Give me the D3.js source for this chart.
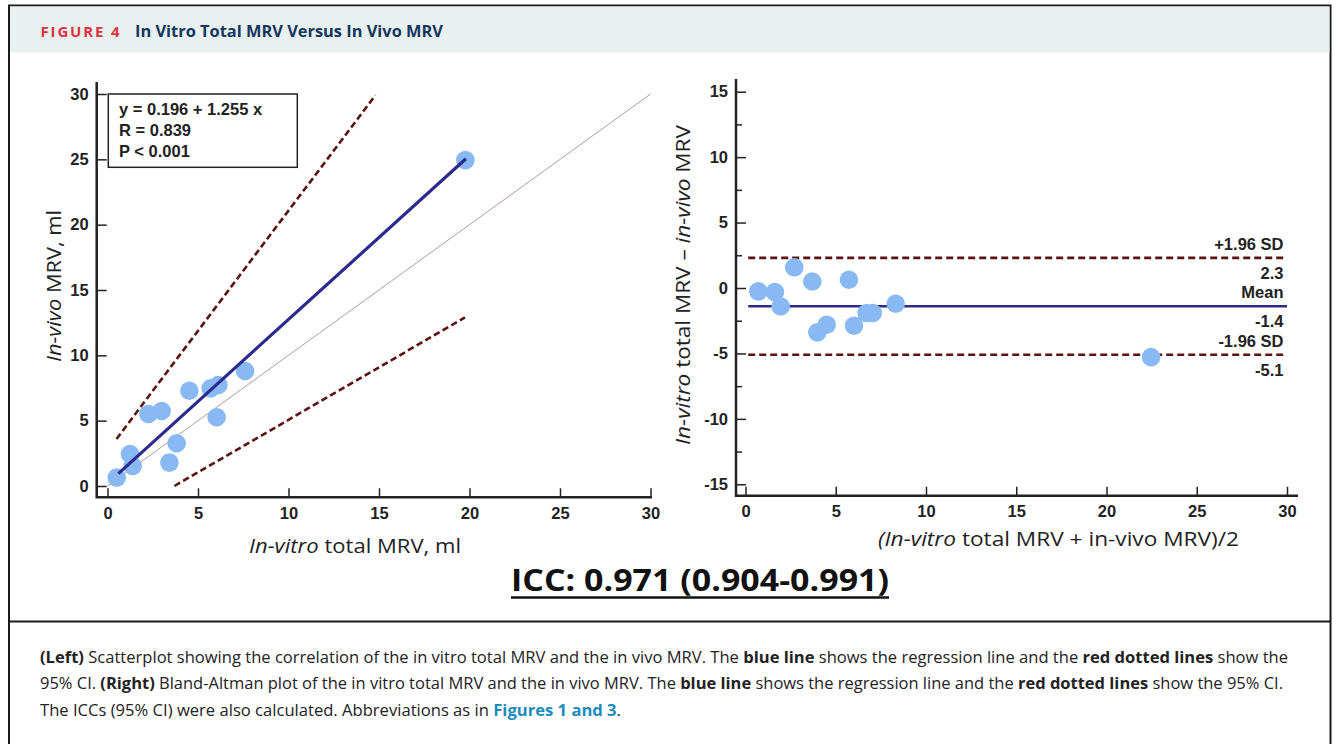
<!DOCTYPE html>
<html>
<head>
<meta charset="utf-8">
<script src="https://cdn.jsdelivr.net/npm/d3@7"></script>
<style>
  html, body { margin: 0; padding: 0; background: #fff; }
  svg { display: block; }
</style>
</head>
<body>
<svg id="fig" width="1336" height="744"></svg>
<script>
// ---- Data --------------------------------------------------------------
// Scatterplot: in vitro total MRV (x) vs in vivo MRV (y), ml
const invitroMRV = [0.51, 1.24, 1.39, 2.26, 2.99, 3.42, 3.82, 4.52, 5.70, 6.12, 6.03, 7.60, 19.77];
const invivoMRV  = [0.64, 2.45, 1.53, 5.51, 5.74, 1.79, 3.27, 7.29, 7.47, 7.73, 5.26, 8.80, 24.94];

// Regression y = a + b x, drawn over the observed x range
const regIntercept = 0.196;
const regSlope = 1.255;
const regRangeX = [0.6, 19.8];
const statLines = ["y = 0.196 + 1.255 x", "R = 0.839", "P < 0.001"];

// 95% CI bounds (end points) and identity line
const ciUpper = [[0.5, 3.6], [14.8, 29.9]];
const ciLower = [[3.7, 0.0], [19.75, 12.9]];
const identity = [[0, 0], [30, 30]];

// Bland-Altman: mean of methods (x) vs difference (y)
const baMean = [0.71, 1.63, 1.95, 2.70, 3.70, 5.73, 3.98, 4.50, 6.01, 6.71, 7.05, 8.32, 22.47];
const baDiff = [-0.26, -0.31, -1.41, 1.58, 0.50, 0.63, -3.39, -2.81, -2.88, -1.91, -1.91, -1.20, -5.28];

// Limits of agreement and mean difference
const baLines = [
  { name: "+1.96 SD", value: 2.3, label: "2.3", dashed: true },
  { name: "Mean", value: -1.4, label: "-1.4", dashed: false },
  { name: "-1.96 SD", value: -5.1, label: "-5.1", dashed: true }
];
const baLineRangeX = [0.15, 30];

// Tick values
const scatterTicks = [0, 5, 10, 15, 20, 25, 30];
const baXTicks = [0, 5, 10, 15, 20, 25, 30];
const baYTicks = [-15, -10, -5, 0, 5, 10, 15];
const baYMinor = [-12.5, -7.5, -2.5, 2.5, 7.5, 12.5];

const iccText = "ICC: 0.971 (0.904-0.991)";

// ---- Styles -------------------------------------------------------------
const C = {
  point: "#89b9f3",
  reg: "#2c2a8c",
  ci: "#5a1212",
  ident: "#b59a9a",
  axis: "#222",
  header: "#e8f1f0",
  red: "#e3313f",
  navy: "#14365f",
  link: "#1b8bbd",
  text: "#222"
};
const tickFont = "bold 16.5px 'Liberation Sans', Arial, sans-serif";
const titleFont = "'Open Sans', 'Noto Sans', sans-serif";
const plain = d => String(d);   // hyphen-minus for negatives

const svg = d3.select("#fig");

// ---- Frame and header ---------------------------------------------------
svg.append("rect").attr("x", 9).attr("y", 5.5).attr("width", 1321.5).attr("height", 760)
  .attr("fill", "none").attr("stroke", "#1a1a1a").attr("stroke-width", 2);
svg.append("rect").attr("x", 10).attr("y", 6.5).attr("width", 1319.5).attr("height", 46)
  .attr("fill", C.header);
svg.append("line").attr("x1", 9).attr("x2", 1330.5).attr("y1", 621.5).attr("y2", 621.5)
  .attr("stroke", "#1a1a1a").attr("stroke-width", 2);

svg.append("text").attr("x", 40.5).attr("y", 36.5).text("FIGURE 4").attr("fill", C.red)
  .style("font-family", "'Open Sans', 'Noto Sans', sans-serif").style("font-weight", "bold")
  .style("font-size", "14.5px").style("letter-spacing", "1.8px")
  .attr("textLength", 81).attr("lengthAdjust", "spacingAndGlyphs");
svg.append("text").attr("x", 135).attr("y", 36.5).text("In Vitro Total MRV Versus In Vivo MRV")
  .attr("fill", C.navy).style("font-family", "'Open Sans', 'Noto Sans', sans-serif")
  .style("font-weight", "bold").style("font-size", "16px")
  .attr("textLength", 308).attr("lengthAdjust", "spacingAndGlyphs");

// ---- Left panel: scatterplot -------------------------------------------
const xL = d3.scaleLinear().domain([0, 30]).range([107.5, 650.5]);
const yL = d3.scaleLinear().domain([0, 30]).range([486, 94]);
const leftFrame = { x0: 96.7, y0: 497.3, top: 82, right: 652 };

const gL = svg.append("g");

// axis lines
gL.append("path")
  .attr("d", `M${leftFrame.x0},${leftFrame.top}V${leftFrame.y0}H${leftFrame.right}`)
  .attr("fill", "none").attr("stroke", C.axis).attr("stroke-width", 2.5);

const styleAxis = g => g
  .call(g => g.select(".domain").remove())
  .call(g => g.selectAll(".tick line").attr("stroke", C.axis).attr("stroke-width", 1.5))
  .call(g => g.selectAll(".tick text").style("font", tickFont).attr("fill", C.axis));

const yAxisL = d3.axisLeft(yL).tickValues(scatterTicks).tickFormat(plain).tickSize(-10).tickPadding(8);
gL.append("g").attr("transform", `translate(${leftFrame.x0},0)`).call(yAxisL).call(styleAxis);

const xAxisL = d3.axisBottom(xL).tickValues(scatterTicks).tickFormat(plain).tickSize(-9).tickPadding(10);
gL.append("g").attr("transform", `translate(0,${leftFrame.y0})`).call(xAxisL).call(styleAxis);

const lineL = d3.line().x(d => xL(d[0])).y(d => yL(d[1]));

// identity line
gL.append("path").attr("d", lineL(identity)).attr("fill", "none")
  .attr("stroke", C.ident).attr("stroke-width", 1);

// confidence bounds
[ciUpper, ciLower].forEach(seg => {
  gL.append("path").attr("d", lineL(seg)).attr("fill", "none")
    .attr("stroke", C.ci).attr("stroke-width", 2.6).attr("stroke-dasharray", "6.5,3.5");
});

// points
gL.append("g").selectAll("circle").data(invitroMRV.map((x, i) => [x, invivoMRV[i]]))
  .join("circle").attr("cx", d => xL(d[0])).attr("cy", d => yL(d[1])).attr("r", 9.3)
  .attr("fill", C.point);

// regression line
gL.append("path")
  .attr("d", lineL(regRangeX.map(x => [x, regIntercept + regSlope * x])))
  .attr("fill", "none").attr("stroke", C.reg).attr("stroke-width", 3.2);

// stats box
gL.append("rect").attr("x", 108.3).attr("y", 94).attr("width", 189).attr("height", 73.3)
  .attr("fill", "#fff").attr("stroke", "#222").attr("stroke-width", 1.5);
gL.append("g").selectAll("text").data(statLines).join("text")
  .attr("x", 119).attr("y", (d, i) => 114.5 + i * 21.3).text(d => d)
  .style("font", tickFont).attr("fill", C.axis);

// axis titles
const titleL = gL.append("text")
  .attr("transform", "translate(61,286) rotate(-90)").attr("text-anchor", "middle")
  .style("font-family", titleFont).style("font-size", "20px").attr("fill", C.text)
  .attr("textLength", 152).attr("lengthAdjust", "spacingAndGlyphs");
titleL.append("tspan").text("In-vivo").style("font-style", "italic");
titleL.append("tspan").text(" MRV, ml");

const titleLX = gL.append("text").attr("x", 355).attr("y", 553).attr("text-anchor", "middle")
  .style("font-family", titleFont).style("font-size", "20px").attr("fill", C.text)
  .attr("textLength", 212).attr("lengthAdjust", "spacingAndGlyphs");
titleLX.append("tspan").text("In-vitro").style("font-style", "italic");
titleLX.append("tspan").text(" total MRV, ml");

// ---- Right panel: Bland-Altman -----------------------------------------
const xR = d3.scaleLinear().domain([0, 30]).range([745.5, 1287]);
const yR = d3.scaleLinear().domain([-15, 15]).range([484.3, 91.7]);
const rightFrame = { x0: 736, y0: 495.7, top: 79, right: 1298 };

const gR = svg.append("g");
gR.append("path")
  .attr("d", `M${rightFrame.x0},${rightFrame.top}V${rightFrame.y0}H${rightFrame.right}`)
  .attr("fill", "none").attr("stroke", C.axis).attr("stroke-width", 2.5);

const yAxisR = d3.axisLeft(yR).tickValues(baYTicks).tickFormat(plain).tickSize(-10).tickPadding(8);
gR.append("g").attr("transform", `translate(${rightFrame.x0},0)`).call(yAxisR).call(styleAxis);

const yMinorR = d3.axisLeft(yR).tickValues(baYMinor).tickSize(-6).tickFormat("");
gR.append("g").attr("transform", `translate(${rightFrame.x0},0)`).call(yMinorR).call(styleAxis);

const xAxisR = d3.axisBottom(xR).tickValues(baXTicks).tickFormat(plain).tickSize(-9).tickPadding(10);
gR.append("g").attr("transform", `translate(0,${rightFrame.y0})`).call(xAxisR).call(styleAxis);

// reference lines with labels
baLines.forEach(l => {
  gR.append("line")
    .attr("x1", xR(baLineRangeX[0])).attr("x2", xR(baLineRangeX[1]))
    .attr("y1", yR(l.value)).attr("y2", yR(l.value))
    .attr("stroke", l.dashed ? C.ci : C.reg).attr("stroke-width", l.dashed ? 2.6 : 2.4)
    .attr("stroke-dasharray", l.dashed ? "7,4" : null);
  gR.append("text").attr("x", xR(30) - 3.5).attr("y", yR(l.value) - 8)
    .attr("text-anchor", "end").text(l.name).style("font", tickFont).attr("fill", C.axis);
  gR.append("text").attr("x", xR(30) - 3.5).attr("y", yR(l.value) + 21)
    .attr("text-anchor", "end").text(l.label).style("font", tickFont).attr("fill", C.axis);
});

// points
gR.append("g").selectAll("circle").data(baMean.map((x, i) => [x, baDiff[i]]))
  .join("circle").attr("cx", d => xR(d[0])).attr("cy", d => yR(d[1])).attr("r", 9.3)
  .attr("fill", C.point);

// axis titles
const titleR = gR.append("text")
  .attr("transform", "translate(690,285) rotate(-90)").attr("text-anchor", "middle")
  .style("font-family", titleFont).style("font-size", "20px").attr("fill", C.text)
  .attr("textLength", 320).attr("lengthAdjust", "spacingAndGlyphs");
titleR.append("tspan").text("In-vitro").style("font-style", "italic");
titleR.append("tspan").text(" total MRV \u2013 ");
titleR.append("tspan").text("in-vivo").style("font-style", "italic");
titleR.append("tspan").text(" MRV");

const titleRX = gR.append("text").attr("x", 1058.5).attr("y", 546).attr("text-anchor", "middle")
  .style("font-family", titleFont).style("font-size", "20px").attr("fill", C.text)
  .attr("textLength", 361).attr("lengthAdjust", "spacingAndGlyphs");
titleRX.append("tspan").text("(In-vitro").style("font-style", "italic");
titleRX.append("tspan").text(" total MRV + in-vivo MRV)/2");

// ---- ICC ------------------------------------------------------------------
svg.append("text").attr("x", 700).attr("y", 591).attr("text-anchor", "middle")
  .text(iccText).style("font-family", titleFont).style("font-weight", "bold")
  .style("font-size", "31px").attr("fill", "#111")
  .attr("textLength", 378).attr("lengthAdjust", "spacingAndGlyphs");
svg.append("line").attr("x1", 511).attr("x2", 889).attr("y1", 597.5).attr("y2", 597.5)
  .attr("stroke", "#111").attr("stroke-width", 2.4);

// ---- Caption --------------------------------------------------------------
const capLines = [
  { end: 1288, parts: [
    ["(Left)", "b"], [" Scatterplot showing the correlation of the in vitro total MRV and the in vivo MRV. The ", ""],
    ["blue line", "b"], [" shows the regression line and the ", ""], ["red dotted lines", "b"], [" show the", ""] ] },
  { end: 1283, parts: [
    ["95% CI. ", ""], ["(Right)", "b"], [" Bland-Altman plot of the in vitro total MRV and the in vivo MRV. The ", ""],
    ["blue line", "b"], [" shows the regression line and the ", ""], ["red dotted lines", "b"], [" show the 95% CI.", ""] ] },
  { end: 621, parts: [
    ["The ICCs (95% CI) were also calculated. Abbreviations as in ", ""], ["Figures 1 and 3", "link"], [".", ""] ] }
];
capLines.forEach((ln, i) => {
  const t = svg.append("text").attr("x", 40).attr("y", 662.5 + i * 26.5)
    .style("font-family", titleFont).style("font-size", "15.5px").attr("fill", C.text)
    .attr("textLength", ln.end - 40).attr("lengthAdjust", "spacingAndGlyphs");
  ln.parts.forEach(p => {
    const s = t.append("tspan").text(p[0]);
    if (p[1] === "b") s.style("font-weight", "bold");
    if (p[1] === "link") s.style("font-weight", "bold").attr("fill", C.link);
  });
});
</script>
</body>
</html>
